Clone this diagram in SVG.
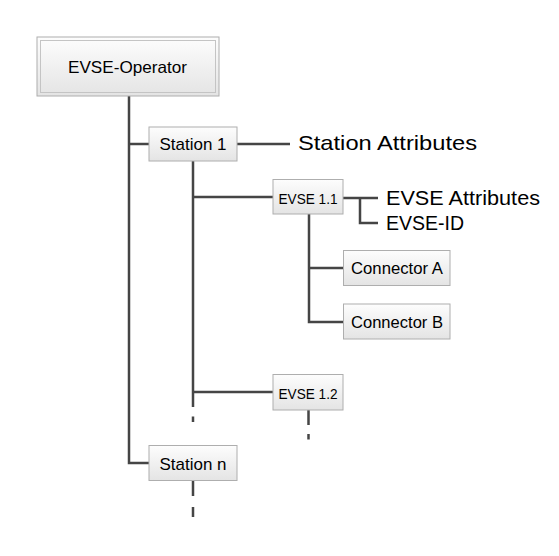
<svg xmlns="http://www.w3.org/2000/svg" width="559" height="556" viewBox="0 0 559 556">
<defs>
<linearGradient id="g" x1="0" y1="0" x2="0" y2="1">
<stop offset="0" stop-color="#fdfdfd"/>
<stop offset="1" stop-color="#e4e4e4"/>
</linearGradient>
<style>
.box{fill:url(#g);stroke:#aeaeae;stroke-width:1}
.ln{fill:none;stroke:#454545;stroke-width:2.5}
.t{font-family:"Liberation Sans",Arial,sans-serif;fill:#000;text-anchor:middle}
.big{font-family:"Liberation Sans",Arial,sans-serif;fill:#000;font-size:21px}
</style>
</defs>
<rect width="559" height="556" fill="#fff"/>
<g id="connectors">
<path class="ln" d="M129,96 V463 H149"/>
<path class="ln" d="M129,144 H149"/>
<path class="ln" d="M237,144 H290"/>
<path class="ln" d="M193,161 V407 M193,416.5 V422"/>
<path class="ln" d="M193,197 H273 M193,392 H273"/>
<path class="ln" d="M343,198 H378 M360,198 V223 H378"/>
<path class="ln" d="M309,214 V322 H343 M309,268 H343"/>
<path class="ln" d="M308.5,410 V425 M308.5,434 V439.5"/>
<path class="ln" d="M193,481 V496 M193,507 V517"/>
</g>
<g id="operator">
<rect class="box" x="37" y="37" width="182" height="59"/>
<rect x="40.5" y="40.5" width="175" height="52" fill="none" stroke="#c4c4c4" stroke-width="1"/>
<text class="t" x="127.5" y="72.5" font-size="16.5" textLength="119" lengthAdjust="spacingAndGlyphs">EVSE-Operator</text>
</g>
<g id="station1">
<rect class="box" x="149" y="127" width="88" height="34"/>
<text class="t" x="193" y="150" font-size="17" textLength="67" lengthAdjust="spacingAndGlyphs">Station 1</text>
</g>
<g id="station-attributes">
<text class="big" x="298" y="149.5" textLength="179" lengthAdjust="spacingAndGlyphs">Station Attributes</text>
</g>
<g id="evse11">
<rect class="box" x="273" y="179.5" width="70" height="34.5"/>
<text class="t" x="308" y="204" font-size="14.5" textLength="59" lengthAdjust="spacingAndGlyphs">EVSE 1.1</text>
</g>
<g id="evse-attributes">
<text class="big" x="386" y="205" textLength="154" lengthAdjust="spacingAndGlyphs">EVSE Attributes</text>
</g>
<g id="evse-id">
<text class="big" x="386" y="230" textLength="78" lengthAdjust="spacingAndGlyphs">EVSE-ID</text>
</g>
<g id="connectorA">
<rect class="box" x="343.5" y="250.5" width="106.5" height="35"/>
<text class="t" x="397" y="274" font-size="16.5" textLength="92" lengthAdjust="spacingAndGlyphs">Connector A</text>
</g>
<g id="connectorB">
<rect class="box" x="343.5" y="304" width="106.5" height="35"/>
<text class="t" x="397" y="327.5" font-size="16.5" textLength="92" lengthAdjust="spacingAndGlyphs">Connector B</text>
</g>
<g id="evse12">
<rect class="box" x="273" y="374.5" width="70" height="35.5"/>
<text class="t" x="308" y="398.5" font-size="14.5" textLength="59" lengthAdjust="spacingAndGlyphs">EVSE 1.2</text>
</g>
<g id="stationN">
<rect class="box" x="149" y="445.5" width="88" height="35"/>
<text class="t" x="193" y="470" font-size="17" textLength="67" lengthAdjust="spacingAndGlyphs">Station n</text>
</g>
</svg>
